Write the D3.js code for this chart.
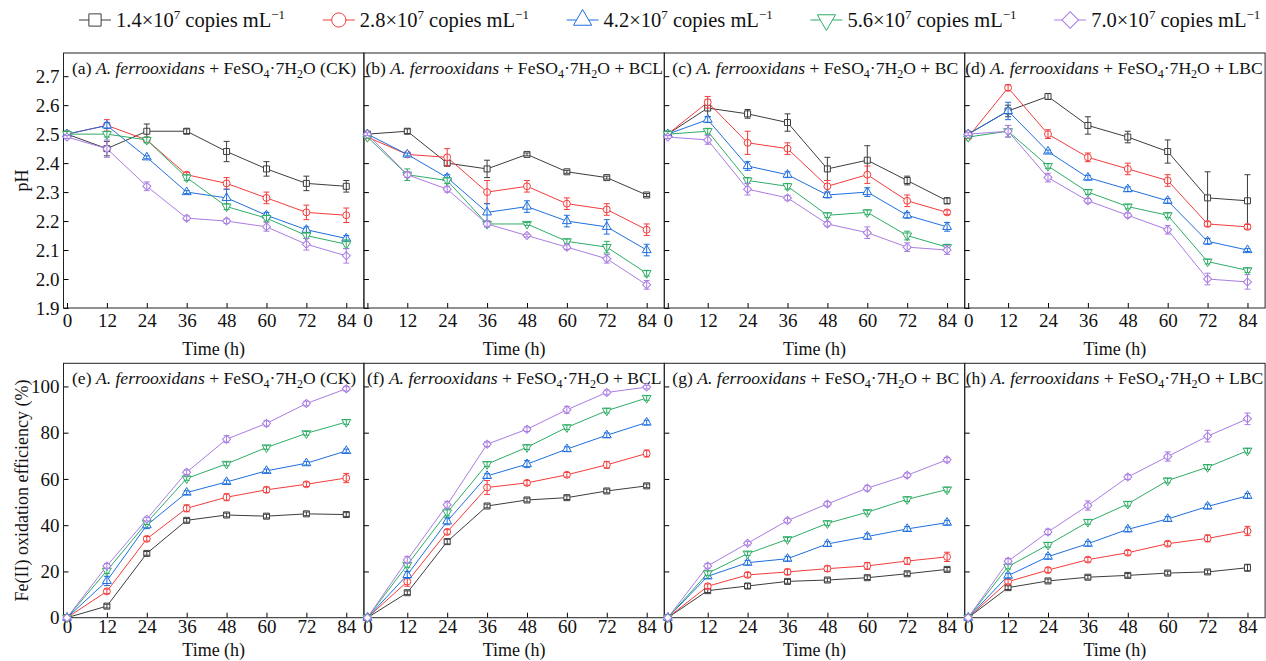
<!DOCTYPE html>
<html>
<head>
<meta charset="utf-8">
<script src="https://cdn.jsdelivr.net/npm/d3@7/dist/d3.min.js"></script>
<style>
  body { margin: 0; background: #fff; }
  svg { font-family: "Liberation Serif", "DejaVu Serif", serif; }
</style>
</head>
<body>
<div id="chart"></div>
<script>
// 采样时间 (h)
const hours = [0, 12, 24, 36, 48, 60, 72, 84];
const concLabels = ["1.4", "2.8", "4.2", "5.6", "7.0"];
const panelTags = ["CK", "BCL", "BC", "LBC"];
const phTicks = [1.9, 2.0, 2.1, 2.2, 2.3, 2.4, 2.5, 2.6, 2.7];
const effTicks = [0, 20, 40, 60, 80, 100];

// pH, 每组 5 个接种浓度
const phCK = [
  [2.50, 2.45, 2.51, 2.51, 2.44, 2.38, 2.33, 2.32],
  [2.50, 2.53, 2.48, 2.36, 2.33, 2.28, 2.23, 2.22],
  [2.50, 2.53, 2.42, 2.30, 2.28, 2.22, 2.17, 2.14],
  [2.50, 2.50, 2.48, 2.35, 2.25, 2.21, 2.15, 2.12],
  [2.49, 2.45, 2.32, 2.21, 2.20, 2.18, 2.12, 2.08]
];
const phCKErr = [
  [0.005, 0.025, 0.025, 0.008, 0.035, 0.025, 0.025, 0.02],
  [0.005, 0.02, 0.008, 0.008, 0.02, 0.02, 0.025, 0.025],
  [0.005, 0.01, 0.005, 0.005, 0.03, 0.01, 0.01, 0.01],
  [0.01, 0.01, 0.01, 0.01, 0.01, 0.01, 0.01, 0.015],
  [0.005, 0.03, 0.015, 0.008, 0.008, 0.015, 0.02, 0.025]
];
const phBCL = [
  [2.50, 2.51, 2.40, 2.38, 2.43, 2.37, 2.35, 2.29],
  [2.49, 2.43, 2.42, 2.30, 2.32, 2.26, 2.24, 2.17],
  [2.50, 2.43, 2.35, 2.23, 2.25, 2.20, 2.18, 2.10],
  [2.49, 2.36, 2.34, 2.19, 2.19, 2.13, 2.11, 2.02],
  [2.50, 2.36, 2.31, 2.19, 2.15, 2.11, 2.07, 1.98]
];
const phBCLErr = [
  [0.005, 0.008, 0.01, 0.03, 0.005, 0.005, 0.005, 0.005],
  [0.005, 0.005, 0.03, 0.04, 0.02, 0.02, 0.02, 0.02],
  [0.005, 0.005, 0.01, 0.03, 0.02, 0.02, 0.025, 0.02],
  [0.005, 0.02, 0.01, 0.01, 0.005, 0.008, 0.02, 0.01],
  [0.005, 0.01, 0.01, 0.01, 0.005, 0.008, 0.015, 0.015]
];
const phBC = [
  [2.50, 2.59, 2.57, 2.54, 2.38, 2.41, 2.34, 2.27],
  [2.50, 2.61, 2.47, 2.45, 2.32, 2.36, 2.27, 2.23],
  [2.50, 2.55, 2.39, 2.36, 2.29, 2.30, 2.22, 2.18],
  [2.50, 2.51, 2.34, 2.32, 2.22, 2.23, 2.15, 2.11],
  [2.49, 2.48, 2.31, 2.28, 2.19, 2.16, 2.11, 2.10]
];
const phBCErr = [
  [0.005, 0.03, 0.015, 0.03, 0.04, 0.05, 0.015, 0.01],
  [0.005, 0.02, 0.04, 0.02, 0.02, 0.03, 0.02, 0.008],
  [0.005, 0.01, 0.015, 0.01, 0.01, 0.015, 0.01, 0.015],
  [0.01, 0.01, 0.01, 0.01, 0.008, 0.008, 0.015, 0.01],
  [0.005, 0.015, 0.02, 0.008, 0.008, 0.02, 0.015, 0.015]
];
const phLBC = [
  [2.50, 2.58, 2.63, 2.53, 2.49, 2.44, 2.28, 2.27],
  [2.49, 2.66, 2.50, 2.42, 2.38, 2.34, 2.19, 2.18],
  [2.50, 2.58, 2.44, 2.35, 2.31, 2.27, 2.13, 2.10],
  [2.49, 2.51, 2.39, 2.30, 2.25, 2.22, 2.06, 2.03],
  [2.50, 2.51, 2.35, 2.27, 2.22, 2.17, 2.00, 1.99]
];
const phLBCErr = [
  [0.005, 0.02, 0.01, 0.03, 0.02, 0.04, 0.09, 0.09],
  [0.005, 0.01, 0.015, 0.015, 0.02, 0.02, 0.008, 0.008],
  [0.005, 0.03, 0.005, 0.008, 0.008, 0.008, 0.01, 0.005],
  [0.005, 0.02, 0.008, 0.008, 0.008, 0.008, 0.008, 0.008],
  [0.005, 0.02, 0.015, 0.008, 0.008, 0.015, 0.02, 0.025]
];

// Fe(II) 氧化率 (%)
const effCK = [
  [0, 5.0, 27.8, 42.1, 44.4, 43.9, 44.9, 44.6],
  [0, 11.4, 34.1, 47.3, 52.1, 55.3, 57.7, 60.4],
  [0, 15.9, 40.0, 54.1, 58.7, 63.5, 66.8, 72.1],
  [0, 20.3, 41.1, 60.2, 66.5, 73.6, 79.7, 84.6],
  [0, 22.4, 42.6, 62.9, 77.2, 84.0, 92.6, 99.0]
];
const effCKErr = [
  [0, 0.8, 0.8, 0.8, 0.8, 0.8, 0.8, 0.8],
  [0, 1.0, 1.0, 1.5, 1.5, 1.2, 1.0, 2.0],
  [0, 2.0, 1.5, 0.8, 0.8, 0.8, 0.8, 0.8],
  [0, 1.2, 0.8, 0.8, 0.8, 0.8, 0.8, 1.0],
  [0, 1.0, 0.8, 1.0, 1.5, 1.2, 1.0, 1.0]
];
const effBCL = [
  [0, 10.8, 32.9, 48.3, 50.9, 51.9, 54.8, 57.0],
  [0, 15.6, 37.1, 56.3, 58.3, 61.8, 66.1, 71.0],
  [0, 18.5, 41.7, 61.3, 66.4, 72.9, 78.9, 84.4],
  [0, 22.8, 45.5, 66.4, 73.7, 82.3, 89.5, 95.0],
  [0, 25.0, 48.8, 75.0, 81.5, 89.9, 97.4, 99.7]
];
const effBCLErr = [
  [0, 0.8, 1.0, 0.8, 0.8, 0.8, 0.8, 0.8],
  [0, 2.0, 1.0, 3.0, 1.0, 1.0, 1.5, 1.5],
  [0, 1.5, 1.5, 1.0, 1.5, 1.0, 1.0, 1.0],
  [0, 1.0, 1.5, 1.0, 1.0, 1.0, 1.0, 1.0],
  [0, 1.5, 1.5, 1.0, 1.0, 1.5, 1.0, 0.8]
];
const effBC = [
  [0, 11.7, 13.7, 15.7, 16.3, 17.3, 19.0, 20.9],
  [0, 13.6, 18.5, 19.8, 21.2, 22.4, 24.5, 26.3],
  [0, 17.9, 23.8, 25.5, 31.9, 35.1, 38.4, 41.1],
  [0, 19.2, 27.7, 33.9, 40.8, 45.6, 51.2, 55.4],
  [0, 22.4, 32.2, 42.0, 49.2, 56.0, 61.6, 68.3]
];
const effBCErr = [
  [0, 0.8, 1.0, 0.8, 0.8, 0.8, 0.8, 0.8],
  [0, 1.0, 1.0, 1.2, 1.2, 1.5, 1.5, 2.0],
  [0, 1.0, 1.0, 1.0, 1.0, 1.2, 1.0, 1.0],
  [0, 1.0, 0.8, 0.8, 1.0, 0.8, 1.0, 1.0],
  [0, 1.0, 0.8, 1.0, 1.0, 1.2, 1.0, 1.0]
];
const effLBC = [
  [0, 13.0, 15.9, 17.5, 18.3, 19.3, 19.8, 21.6],
  [0, 15.6, 20.6, 25.1, 28.1, 32.0, 34.3, 37.5],
  [0, 18.2, 26.4, 32.0, 38.2, 42.7, 48.1, 52.7],
  [0, 22.1, 31.5, 41.4, 49.2, 59.3, 65.1, 72.2],
  [0, 24.4, 37.1, 48.5, 60.8, 69.7, 78.5, 86.0]
];
const effLBCErr = [
  [0, 0.8, 0.8, 0.8, 0.8, 0.8, 0.8, 1.5],
  [0, 1.0, 1.0, 1.0, 1.0, 1.0, 1.5, 2.0],
  [0, 1.0, 1.0, 1.0, 1.0, 1.0, 1.0, 1.0],
  [0, 1.0, 1.0, 1.0, 1.0, 1.0, 1.0, 1.0],
  [0, 1.2, 1.2, 2.0, 1.0, 2.0, 2.5, 2.5]
];

const colors = ["#3d3d3d", "#f43c3c", "#1f6fde", "#2ead66", "#aa7de2"];
const symbols = [d3.symbolSquare, d3.symbolCircle, d3.symbolTriangle, d3.symbolTriangle, d3.symbolSquare];
const symRotate = [0, 0, 0, 180, 45];
const symScale = [1, 1.05, 0.95, 0.95, 0.9];

const W = 1266, H = 661;
const svg = d3.select('#chart').append('svg')
  .attr('width', W).attr('height', H);

const panelLeft = 63.5, panelW = 300.4;
const tickFont = 19, titleFont = 17.6, labelFont = 18;
const rows = [
  {top: 53, bottom: 308, domain: [1.9, 2.78], ticks: phTicks, fmt: d3.format('.1f'),
   data: [phCK, phBCL, phBC, phLBC], err: [phCKErr, phBCLErr, phBCErr, phLBCErr],
   letters: ['a', 'b', 'c', 'd'], titleDx: [8.5, 1.5, 8, 0.5],
   ylabel: 'pH', timeDy: 47, pad: 6},
  {top: 363.3, bottom: 617.7, domain: [0, 110], ticks: effTicks, fmt: d3.format('d'),
   data: [effCK, effBCL, effBC, effLBC], err: [effCKErr, effBCLErr, effBCErr, effLBCErr],
   letters: ['e', 'f', 'g', 'h'], titleDx: [8.5, 3, 8, 1],
   ylabel: 'Fe(II) oxidation efficiency (%)', timeDy: 38, pad: 2}
];

/**
 * 画标记符号
 */
const drawSymbol = (g, i, x, y, size) => {
  g.append('path')
    .attr('d', d3.symbol().type(symbols[i]).size(size * symScale[i]))
    .attr('transform', `translate(${x},${y}) rotate(${symRotate[i]})`)
    .attr('fill', '#fff')
    .attr('stroke', colors[i])
    .attr('stroke-width', 1);
};

/**
 * 标题文字，含斜体和下标
 */
const addTitle = (g, x, y, letter, tag) => {
  const t = g.append('text').attr('x', x).attr('y', y)
    .attr('font-size', titleFont).attr('fill', '#111');
  t.append('tspan').text(`(${letter}) `);
  t.append('tspan').attr('font-style', 'italic').text('A. ferrooxidans');
  t.append('tspan').text(' + FeSO');
  t.append('tspan').attr('font-size', 12).attr('dy', 4).text('4');
  t.append('tspan').attr('dy', -4).text('\u00b77H');
  t.append('tspan').attr('font-size', 12).attr('dy', 4).text('2');
  t.append('tspan').attr('dy', -4).text(tag === 'CK' ? 'O (CK)' : 'O + ' + tag);
};

rows.forEach((row, r) => {
  const y = d3.scaleLinear().domain(row.domain).range([row.bottom, row.top]);

  row.data.forEach((panel, p) => {
    const left = panelLeft + p * panelW;
    const x = d3.scaleLinear().domain([-1.05, 89.3]).range([left, left + panelW]);
    const g = svg.append('g');

    // 坐标轴
    g.append('g')
      .attr('transform', `translate(0,${row.bottom})`)
      .call(d3.axisBottom(x).tickValues(hours).tickSizeInner(-5).tickSizeOuter(0).tickPadding(row.pad))
      .call(a => a.select('.domain').remove())
      .call(a => a.selectAll('text').attr('font-size', tickFont).attr('fill', '#111').attr('font-family', 'Liberation Serif'));

    g.append('g')
      .attr('transform', `translate(${left},0)`)
      .call(d3.axisLeft(y).tickValues(row.ticks).tickSizeInner(-5).tickSizeOuter(0).tickPadding(4)
        .tickFormat(p === 0 ? row.fmt : ''))
      .call(a => a.select('.domain').remove())
      .call(a => a.selectAll('text').attr('font-size', tickFont).attr('fill', '#111').attr('font-family', 'Liberation Serif'));

    g.append('rect')
      .attr('x', left).attr('y', row.top)
      .attr('width', panelW).attr('height', row.bottom - row.top)
      .attr('fill', 'none').attr('stroke', '#222').attr('stroke-width', 1);

    g.append('text')
      .attr('x', left + panelW / 2).attr('y', row.bottom + row.timeDy)
      .attr('text-anchor', 'middle').attr('font-size', labelFont).attr('fill', '#111')
      .text('Time (h)');

    addTitle(g, left + row.titleDx[p], row.top + 21, row.letters[p], panelTags[p]);

    // 折线 + 标记 + 误差棒
    const line = d3.line().x((d, k) => x(hours[k])).y(d => y(d));
    panel.forEach((vals, s) => {
      g.append('path').datum(vals).attr('d', line)
        .attr('fill', 'none').attr('stroke', colors[s]).attr('stroke-width', 1);
    });
    panel.forEach((vals, s) => {
      vals.forEach((v, k) => drawSymbol(g, s, x(hours[k]), y(v), 36));
      vals.forEach((v, k) => {
        const e = row.err[p][s][k];
        if (!e) return;
        const cx = x(hours[k]);
        const y1 = y(v - e), y2 = y(v + e);
        g.append('path')
          .attr('d', `M${cx},${y1}V${y2}M${cx - 3},${y1}H${cx + 3}M${cx - 3},${y2}H${cx + 3}`)
          .attr('stroke', colors[s]).attr('stroke-width', 1).attr('fill', 'none');
      });
    });
  });

  svg.append('text')
    .attr('transform', `translate(28,${(row.top + row.bottom) / 2}) rotate(-90)`)
    .attr('text-anchor', 'middle').attr('font-size', labelFont).attr('fill', '#111')
    .text(row.ylabel);
});

// 图例
concLabels.forEach((c, i) => {
  const cx = 95 + i * 243.8, cy = 20;
  const g = svg.append('g');
  g.append('line').attr('x1', cx - 16).attr('x2', cx + 16).attr('y1', cy).attr('y2', cy)
    .attr('stroke', colors[i]).attr('stroke-width', 1);
  drawSymbol(g, i, cx, cy, 150);
  const t = g.append('text').attr('x', cx + 21).attr('y', cy + 7)
    .attr('font-size', 20.5).attr('fill', '#111');
  t.append('tspan').text(`${c}\u00d710`);
  t.append('tspan').attr('font-size', 13).attr('dy', -8).text('7');
  t.append('tspan').attr('dy', 8).text(' copies mL');
  t.append('tspan').attr('font-size', 13).attr('dy', -8).text('\u22121');
});
</script>
</body>
</html>
